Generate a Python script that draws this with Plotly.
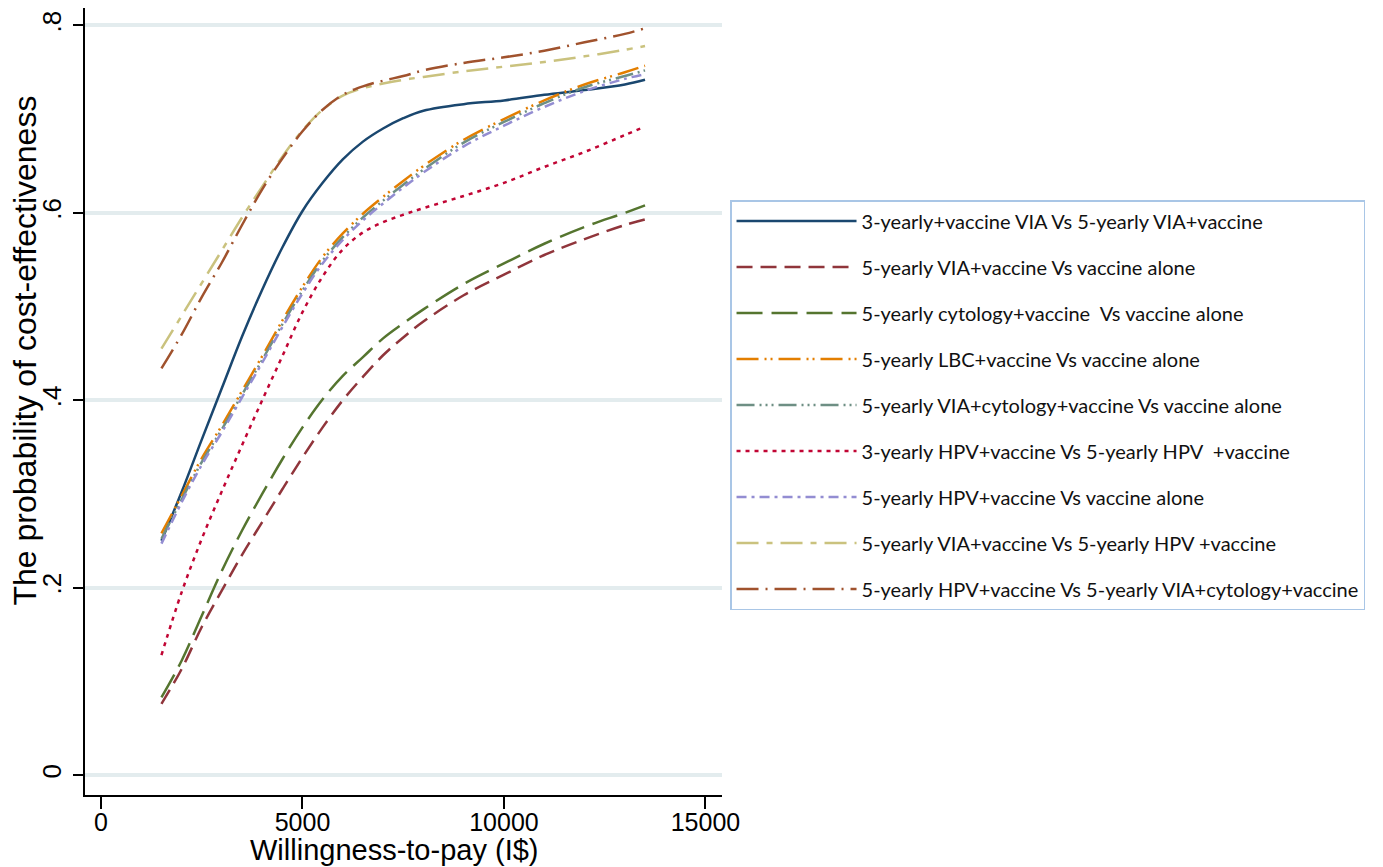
import plotly.graph_objects as go

wtp = [1500, 2000, 2500, 3000, 3500, 4000, 4500, 5000, 5500, 6000, 6500, 7000,
       7500, 8000, 9000, 10000, 11000, 12000, 13000, 13500]

via3_vs_via5 = [0.250, 0.302, 0.358, 0.413, 0.468, 0.518, 0.563, 0.602, 0.632, 0.657, 0.676, 0.690,
                0.701, 0.709, 0.716, 0.720, 0.726, 0.731, 0.737, 0.742]
via5_vs_vacc = [0.076, 0.113, 0.158, 0.197, 0.235, 0.270, 0.305, 0.339, 0.371, 0.400, 0.425, 0.448,
                0.467, 0.484, 0.512, 0.534, 0.555, 0.572, 0.587, 0.593]
cyt5_vs_vacc = [0.083, 0.122, 0.170, 0.218, 0.261, 0.300, 0.337, 0.371, 0.401, 0.426, 0.446, 0.466,
                0.482, 0.497, 0.524, 0.546, 0.567, 0.585, 0.600, 0.608]
lbc5_vs_vacc = [0.258, 0.298, 0.338, 0.373, 0.410, 0.447, 0.485, 0.521, 0.553, 0.578, 0.599, 0.617,
                0.634, 0.650, 0.678, 0.700, 0.720, 0.737, 0.750, 0.757]
viacyt5_vs_vacc = [0.252, 0.294, 0.334, 0.369, 0.406, 0.443, 0.481, 0.517, 0.549, 0.574, 0.595, 0.613,
                   0.630, 0.646, 0.675, 0.697, 0.717, 0.734, 0.746, 0.752]
hpv3_vs_hpv5 = [0.128, 0.195, 0.252, 0.303, 0.352, 0.400, 0.447, 0.494, 0.532, 0.561, 0.579, 0.590,
                0.598, 0.605, 0.618, 0.632, 0.649, 0.665, 0.683, 0.692]
hpv5_vs_vacc = [0.247, 0.291, 0.331, 0.366, 0.403, 0.440, 0.478, 0.514, 0.546, 0.571, 0.592, 0.610,
                0.627, 0.643, 0.671, 0.693, 0.713, 0.730, 0.743, 0.748]
via5_vs_hpv5 = [0.455, 0.490, 0.525, 0.560, 0.595, 0.628, 0.660, 0.688, 0.710, 0.725, 0.733, 0.738,
                0.742, 0.745, 0.751, 0.756, 0.761, 0.767, 0.774, 0.778]
hpv5_vs_viacyt5 = [0.434, 0.470, 0.510, 0.547, 0.587, 0.625, 0.658, 0.687, 0.710, 0.726, 0.735, 0.741,
                   0.746, 0.752, 0.760, 0.766, 0.773, 0.782, 0.791, 0.797]

names = [
    "3-yearly+vaccine VIA Vs 5-yearly VIA+vaccine",
    "5-yearly VIA+vaccine Vs vaccine alone",
    "5-yearly cytology+vaccine  Vs vaccine alone",
    "5-yearly LBC+vaccine Vs vaccine alone",
    "5-yearly VIA+cytology+vaccine Vs vaccine alone",
    "3-yearly HPV+vaccine Vs 5-yearly HPV  +vaccine",
    "5-yearly HPV+vaccine Vs vaccine alone",
    "5-yearly VIA+vaccine Vs 5-yearly HPV +vaccine",
    "5-yearly HPV+vaccine Vs 5-yearly VIA+cytology+vaccine",
]
series = [via3_vs_via5, via5_vs_vacc, cyt5_vs_vacc, lbc5_vs_vacc, viacyt5_vs_vacc,
          hpv3_vs_hpv5, hpv5_vs_vacc, via5_vs_hpv5, hpv5_vs_viacyt5]
colors = ["#1a476f", "#90353b", "#55752f", "#e37e00", "#6e8f84",
          "#c10534", "#938dd2", "#cac27e", "#a0522d"]
dashes = ["solid", "16px,8px", "26px,9px", "22px,6px,2px,4px,2px,6px",
          "18px,5px,2px,4px,2px,4px,2px,5px", "4px,5px", "10px,5px,3px,5px",
          "22px,8px,6px,8px", "22px,7px,2px,7px"]

x_ticks = [0, 5000, 10000, 15000]
x_ticktext = ["0", "5000", "10000", "15000"]
y_ticks = [0, 0.2, 0.4, 0.6, 0.8]
y_ticktext = ["0", ".2", ".4", ".6", ".8"]

fig = go.Figure()
for i, (nm, ys, c, d) in enumerate(zip(names, series, colors, dashes)):
    fig.add_trace(go.Scatter(
        x=wtp, y=ys, name=nm, mode="lines", legendgroup=f"g{i}",
        line=dict(color=c, width=2.5, dash=d, shape="spline", smoothing=1.0),
    ))

fig.update_layout(
    width=1375, height=859,
    margin=dict(l=77, r=661, t=0, b=72, autoexpand=False),
    paper_bgcolor="white", plot_bgcolor="white",
    font=dict(family="Liberation Sans, Arial, sans-serif", color="black"),
    showlegend=True,
    legend=dict(
        x=1.0126, xanchor="left", y=0.756, yanchor="top",
        bordercolor="#a9c6e6", borderwidth=1.5, bgcolor="white",
        font=dict(family="Lato, Open Sans, sans-serif", size=20, color="#111111"),
        traceorder="grouped", tracegroupgap=17, itemwidth=120,
    ),
    xaxis=dict(
        range=[-397, 15410], tickvals=x_ticks, ticktext=x_ticktext,
        ticks="outside", ticklen=12, tickwidth=1.5, tickcolor="black",
        showline=True, linecolor="black", linewidth=1.5,
        showgrid=False, zeroline=False, ticklabelstandoff=-8,
        tickfont=dict(size=25),
    ),
    yaxis=dict(
        range=[-0.0213, 0.8186], tickvals=y_ticks, ticktext=y_ticktext, tickangle=-90,
        ticks="outside", ticklen=10, tickwidth=1.5, tickcolor="black",
        showline=True, linecolor="black", linewidth=1.5, ticklabelstandoff=2,
        showgrid=True, gridcolor="#e3ecee", gridwidth=3.5, zeroline=False,
        tickfont=dict(size=26),
    ),
    annotations=[
        dict(text="Willingness-to-pay (I$)", xref="paper", yref="paper",
             x=0.485, y=-0.0705, xanchor="center", yanchor="middle",
             showarrow=False, font=dict(size=29)),
        dict(text="The probability of cost-effectiveness", xref="paper", yref="paper",
             x=-0.0935, y=0.5654, xanchor="center", yanchor="middle", textangle=-90,
             showarrow=False, font=dict(size=32)),
    ],
)

fig.write_html("out.html")
